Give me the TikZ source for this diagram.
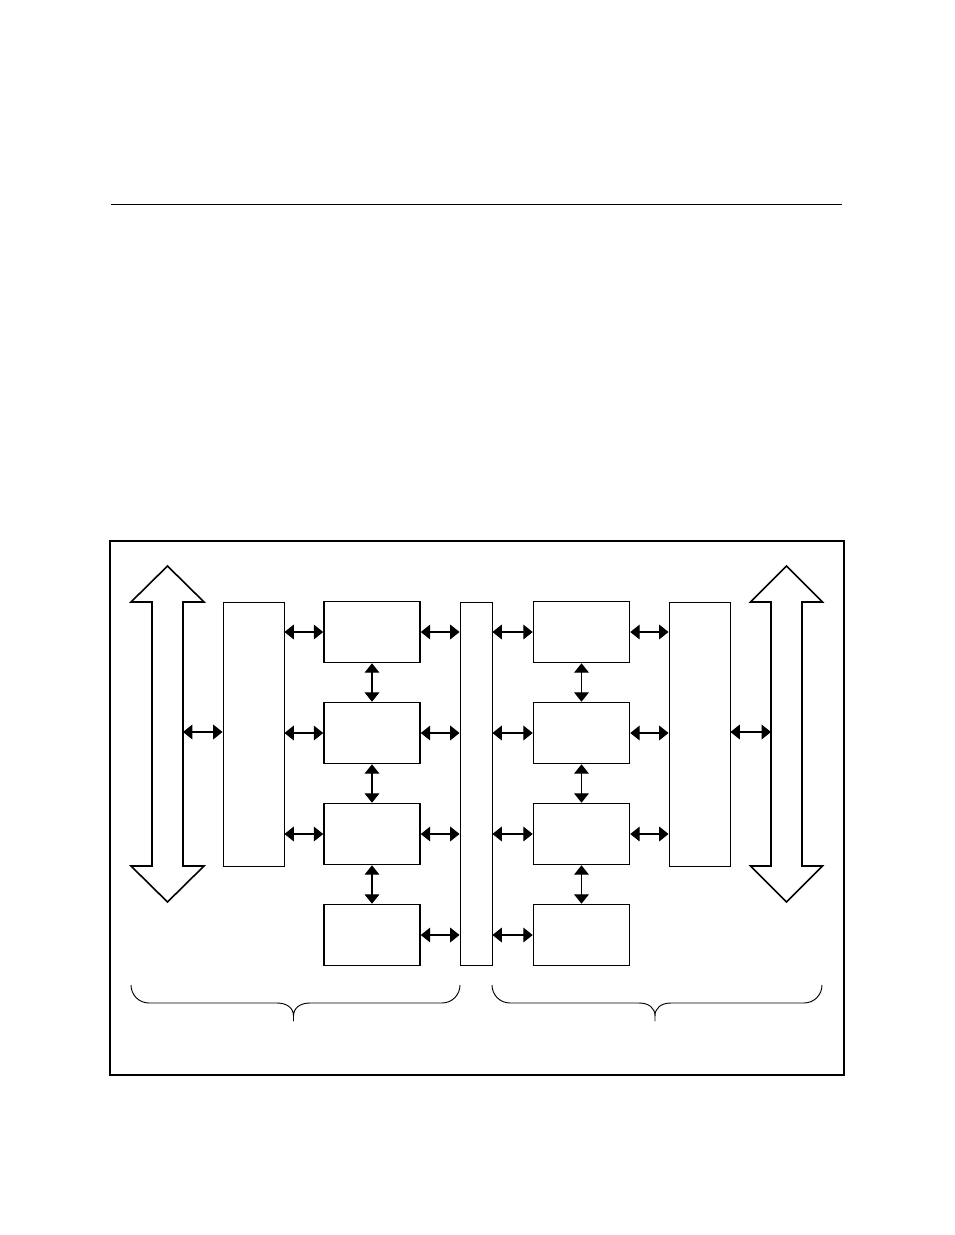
\documentclass[tikz,border=0pt]{standalone}
\usetikzlibrary{positioning,arrows.meta}
\begin{document}
\begin{tikzpicture}[x=0.75pt, y=-0.75pt, node distance={28.8pt},
  block/.style = {draw, line width=1.2pt, minimum width=72pt, minimum height=45.75pt, inner sep=0pt},
  tall/.style = {draw, line width=0.7pt, minimum width=45.75pt, minimum height=198pt, inner sep=0pt},
  bar/.style = {draw, line width=0.7pt, minimum width=24pt, minimum height=272.25pt, inner sep=0pt},
  link/.style = {{Triangle[length=7pt,width=11pt]}-{Triangle[length=7pt,width=11pt]}, line width=0.8pt},
  fat/.style = {draw, line width=1.2pt, line join=miter},
  curly/.style = {line width=0.7pt, line join=round}]
\useasboundingbox (0,0) rectangle (954,1235);
\draw[line width=0.7pt] (111,204) -- (842,204);
\draw[line width=1.5pt] (110,541) rectangle (844,1075);
\draw[fat] (152,602) -- (131,602) -- (167.5,566) -- (204,602) -- (183,602) -- (183,866) -- (204,866) -- (167.5,902) -- (131,866) -- (152,866) -- cycle;
\draw[fat] (771,602) -- (750.5,602) -- (786.5,566) -- (822.5,602) -- (802,602) -- (802,866) -- (822.5,866) -- (786.5,902) -- (750.5,866) -- (771,866) -- cycle;
\coordinate (shaftL) at (183,732);
\coordinate (shaftR) at (771,732);
\node[tall] (lbox) at (253.5,734) {};
\node[block] (l1) at (372,632) {};
\node[block] (l2) [below=of l1] {};
\node[block] (l3) [below=of l2] {};
\node[block] (l4) [below=of l3] {};
\node[bar] (bus) at (476,783.5) {};
\node[block] (r1) at (581.5,632) {};
\node[block] (r2) [below=of r1] {};
\node[block] (r3) [below=of r2] {};
\node[block] (r4) [below=of r3] {};
\node[tall] (rbox) at (699.5,734) {};
\draw[link] (shaftL) -- (lbox.west |- shaftL);
\draw[link] (lbox.east |- l1) -- (l1.west);
\draw[link] (lbox.east |- l2) -- (l2.west);
\draw[link] (lbox.east |- l3) -- (l3.west);
\draw[link] (l1) -- (l2);
\draw[link] (l2) -- (l3);
\draw[link] (l3) -- (l4);
\draw[link] (l1.east) -- (bus.west |- l1);
\draw[link] (l2.east) -- (bus.west |- l2);
\draw[link] (l3.east) -- (bus.west |- l3);
\draw[link] (l4.east) -- (bus.west |- l4);
\draw[link] (bus.east |- r1) -- (r1.west);
\draw[link] (bus.east |- r2) -- (r2.west);
\draw[link] (bus.east |- r3) -- (r3.west);
\draw[link] (bus.east |- r4) -- (r4.west);
\draw[link] (r1) -- (r2);
\draw[link] (r2) -- (r3);
\draw[link] (r3) -- (r4);
\draw[link] (r1.east) -- (rbox.west |- r1);
\draw[link] (r2.east) -- (rbox.west |- r2);
\draw[link] (r3.east) -- (rbox.west |- r3);
\draw[link] (rbox.east |- shaftR) -- (shaftR);
\draw[curly] (131,985) .. controls (131,995) and (139,1003) .. (149,1003) -- (277,1003) .. controls (287,1003) and (293.5,1008) .. (293.5,1016) -- (293.5,1021) -- (293.5,1016) .. controls (293.5,1008) and (300,1003) .. (310,1003) -- (442,1003) .. controls (452,1003) and (460,995) .. (460,985);
\draw[curly] (492,985) .. controls (492,995) and (500,1003) .. (510,1003) -- (639,1003) .. controls (649,1003) and (655,1008) .. (655,1016) -- (655,1021) -- (655,1016) .. controls (655,1008) and (661,1003) .. (671,1003) -- (804,1003) .. controls (814,1003) and (822,995) .. (822,985);
\end{tikzpicture}
\end{document}
